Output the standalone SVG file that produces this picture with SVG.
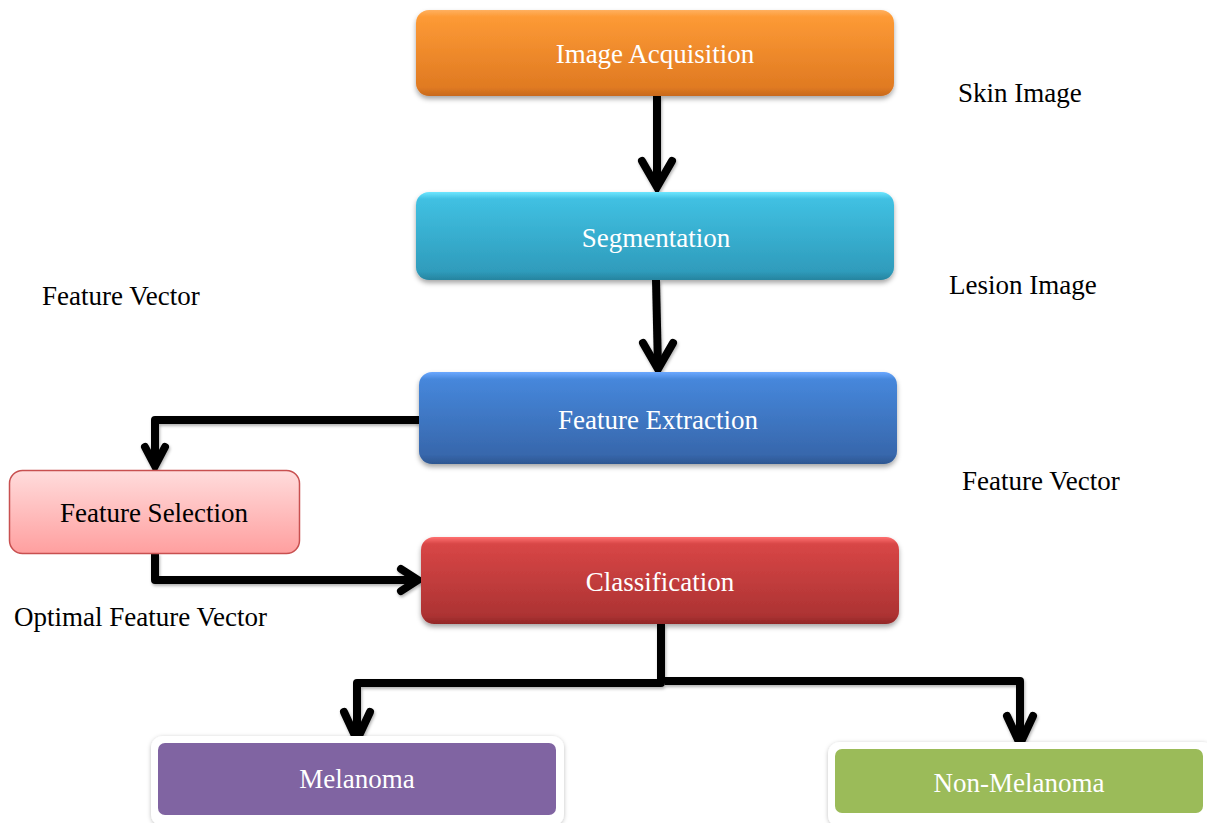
<svg xmlns="http://www.w3.org/2000/svg" width="1207" height="823" viewBox="0 0 1207 823">
  <defs>
    <linearGradient id="gOrange" x1="0" y1="0" x2="0" y2="1">
      <stop offset="0" stop-color="#ffb060"/>
      <stop offset="0.08" stop-color="#fd9a35"/>
      <stop offset="0.9" stop-color="#e07a22"/>
      <stop offset="1" stop-color="#c8691a"/>
    </linearGradient>
    <linearGradient id="gCyan" x1="0" y1="0" x2="0" y2="1">
      <stop offset="0" stop-color="#6ee6ff"/>
      <stop offset="0.08" stop-color="#40c0e2"/>
      <stop offset="0.9" stop-color="#2f9cbc"/>
      <stop offset="1" stop-color="#26849f"/>
    </linearGradient>
    <linearGradient id="gBlue" x1="0" y1="0" x2="0" y2="1">
      <stop offset="0" stop-color="#6aa8ff"/>
      <stop offset="0.08" stop-color="#4687db"/>
      <stop offset="0.9" stop-color="#3767ac"/>
      <stop offset="1" stop-color="#2e5791"/>
    </linearGradient>
    <linearGradient id="gPink" x1="0" y1="0" x2="0" y2="1">
      <stop offset="0" stop-color="#ffdcdc"/>
      <stop offset="1" stop-color="#ff9f9f"/>
    </linearGradient>
    <linearGradient id="gRed" x1="0" y1="0" x2="0" y2="1">
      <stop offset="0" stop-color="#ff7070"/>
      <stop offset="0.08" stop-color="#d84646"/>
      <stop offset="0.9" stop-color="#ad3333"/>
      <stop offset="1" stop-color="#922828"/>
    </linearGradient>
    <filter id="shadow" x="-10%" y="-20%" width="120%" height="150%">
      <feDropShadow dx="0" dy="3" stdDeviation="2.5" flood-color="#000" flood-opacity="0.35"/>
    </filter>
    <filter id="lineShadow" x="-10%" y="-10%" width="120%" height="120%">
      <feDropShadow dx="1" dy="2" stdDeviation="1.5" flood-color="#000" flood-opacity="0.3"/>
    </filter>
    <filter id="softRing" x="-10%" y="-20%" width="120%" height="150%">
      <feDropShadow dx="0" dy="1" stdDeviation="2" flood-color="#000" flood-opacity="0.25"/>
    </filter>
  </defs>
  <style>
    .lbl { font-family: "Liberation Serif", "Times New Roman", serif; font-size: 27px; }
    .w { fill: #ffffff; text-anchor: middle; }
    .k { fill: #000000; }
    .wire { fill: none; stroke: #000; stroke-width: 8; stroke-linejoin: round; }
    .head { fill: none; stroke: #000; stroke-width: 8; stroke-linecap: round; stroke-linejoin: miter; }
  </style>

  <rect width="1207" height="823" fill="#ffffff"/>

  <!-- Connectors -->
  <g id="connectors" filter="url(#lineShadow)">
    <!-- acquisition -> segmentation -->
    <path class="wire" d="M657 96 V187"/>
    <path class="head" d="M642 161 L657 187 L672 161"/>
    <!-- segmentation -> feature extraction -->
    <path class="wire" d="M656 280 L658 369"/>
    <path class="head" d="M643 343 L658 369 L673 343"/>
    <!-- feature extraction -> feature selection -->
    <path class="wire" d="M419 420 H155 V466"/>
    <path class="head" d="M145 447 L155 466 L165 447"/>
    <!-- feature selection -> classification -->
    <path class="wire" d="M155 553 V580 H418"/>
    <path class="head" d="M401 569 L418 580 L401 591"/>
    <!-- classification -> melanoma -->
    <path class="wire" d="M661 624 V683 H357 V740"/>
    <path class="head" d="M344 712 L357 740 L370 712"/>
    <!-- classification -> non-melanoma -->
    <path class="wire" d="M665 681 H1020 V744"/>
    <path class="head" d="M1007 716 L1020 744 L1033 716"/>
  </g>

  <!-- Nodes -->
  <g id="image-acquisition">
    <rect x="416" y="10" width="478" height="86" rx="13" fill="url(#gOrange)" filter="url(#shadow)"/>
    <text class="lbl w" x="655" y="63">Image Acquisition</text>
  </g>

  <g id="segmentation">
    <rect x="416" y="192" width="478" height="88" rx="13" fill="url(#gCyan)" filter="url(#shadow)"/>
    <text class="lbl w" x="656" y="247">Segmentation</text>
  </g>

  <g id="feature-extraction">
    <rect x="419" y="372" width="478" height="92" rx="13" fill="url(#gBlue)" filter="url(#shadow)"/>
    <text class="lbl w" x="658" y="429">Feature Extraction</text>
  </g>

  <g id="feature-selection">
    <rect x="9.5" y="470.5" width="290" height="83" rx="13" fill="url(#gPink)" stroke="#c85050" stroke-width="1.5"/>
    <text class="lbl k" x="154" y="522" text-anchor="middle">Feature Selection</text>
  </g>

  <g id="classification">
    <rect x="421" y="537" width="478" height="87" rx="13" fill="url(#gRed)" filter="url(#shadow)"/>
    <text class="lbl w" x="660" y="591">Classification</text>
  </g>

  <g id="melanoma">
    <rect x="151" y="736" width="413" height="90" rx="12" fill="#ffffff" filter="url(#softRing)"/>
    <rect x="158" y="743" width="398" height="72" rx="7" fill="#8064a2"/>
    <text class="lbl w" x="357" y="788">Melanoma</text>
  </g>

  <g id="non-melanoma">
    <rect x="828" y="742" width="386" height="85" rx="12" fill="#ffffff" filter="url(#softRing)"/>
    <rect x="835" y="749" width="368" height="64" rx="7" fill="#9bbb59"/>
    <text class="lbl w" x="1019" y="792">Non-Melanoma</text>
  </g>

  <!-- Edge annotations -->
  <g id="annotations">
    <text class="lbl k" x="958" y="102">Skin Image</text>
    <text class="lbl k" x="949" y="294">Lesion Image</text>
    <text class="lbl k" x="42" y="305">Feature Vector</text>
    <text class="lbl k" x="962" y="490">Feature Vector</text>
    <text class="lbl k" x="14" y="626">Optimal Feature Vector</text>
  </g>
</svg>
